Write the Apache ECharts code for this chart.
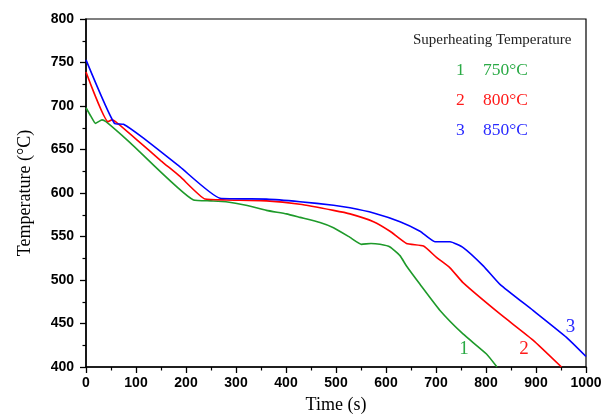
<!DOCTYPE html>
<html>
<head>
<meta charset="utf-8">
<script src="https://cdn.jsdelivr.net/npm/echarts@6/dist/echarts.min.js"></script>
<style>
  html, body { margin: 0; padding: 0; background: #fff; }
  #chart { width: 611px; height: 419px; }
</style>
</head>
<body>
<div id="chart"></div>
<script>
// curve 1 - 750°C superheating
const timeGreen = [0, 10, 19, 25, 32, 40, 88, 215, 250, 280, 320, 361, 401, 428, 468, 495, 528, 551, 570, 588, 608, 628, 641, 668, 708, 754, 801, 822]
const tempGreen = [698, 688, 680, 682, 684, 682, 658, 592, 591, 590, 586, 580, 576, 572, 566, 560, 549, 541, 542, 541, 538, 528, 516, 495, 465, 438, 415, 400]

// curve 2 - 800°C superheating
const timeRed = [0, 44, 52, 59, 100, 150, 188, 238, 281, 361, 428, 495, 528, 575, 608, 641, 675, 701, 728, 754, 828, 894, 951]
const tempRed = [739, 682, 684, 682, 662, 637, 619, 593, 592, 591, 587, 580, 576, 567, 556, 542, 539, 526, 514, 497, 461, 431, 400]

// curve 3 - 850°C superheating
const timeBlue = [0, 57, 75, 115, 188, 268, 361, 428, 495, 528, 575, 628, 668, 698, 728, 755, 795, 828, 894, 961, 1000]
const tempBlue = [753, 680, 679, 663, 630, 594, 593, 590, 586, 583, 577, 567, 556, 544, 544, 537, 516, 495, 465, 434, 412]

const curveNames = ['1', '2', '3']
const superheatLabels = ['750°C', '800°C', '850°C']
const labelAt = [[756, 421], [876, 421], [969, 446]] // where the 1/2/3 tags sit

const colors = ['#1e9a2a', '#ff0000', '#0000ff']
const textColors = ['#2aaa45', '#ff1a1a', '#2a2aff']

const zip = (xs, ys) => xs.map((x, i) => [x, ys[i]])
const seriesData = [zip(timeGreen, tempGreen), zip(timeRed, tempRed), zip(timeBlue, tempBlue)]

const chart = echarts.init(document.getElementById('chart'), null, { renderer: 'canvas' })

const axisCommon = {
  axisLine: { show: true, onZero: false, lineStyle: { color: '#000', width: 1.5 } },
  axisTick: { show: true, inside: false, length: 6, lineStyle: { color: '#000', width: 1.3 } },
  minorTick: { show: true, splitNumber: 2, length: 3.5, lineStyle: { color: '#000', width: 1.2 } },
  splitLine: { show: false },
  axisLabel: { color: '#000', fontFamily: 'Liberation Sans', fontWeight: 'bold', fontSize: 14, formatter: v => String(v) },
  nameTextStyle: { color: '#000', fontFamily: 'Liberation Serif', fontSize: 18 }
}

chart.setOption({
  animation: false,
  backgroundColor: '#fff',
  grid: {
    left: 86, right: 25, top: 19, bottom: 49,
    show: true, borderColor: '#000', borderWidth: 1.2
  },
  xAxis: Object.assign({}, axisCommon, {
    type: 'value', min: 0, max: 1000, interval: 100,
    name: 'Time (s)', nameLocation: 'middle', nameGap: 29,
    axisLabel: Object.assign({}, axisCommon.axisLabel, { margin: 9 })
  }),
  yAxis: Object.assign({}, axisCommon, {
    type: 'value', min: 400, max: 800, interval: 50,
    name: 'Temperature (°C)', nameLocation: 'middle', nameGap: 52,
    axisLabel: Object.assign({}, axisCommon.axisLabel, { margin: 12 })
  }),
  series: seriesData.map((d, i) => ({
    name: superheatLabels[i],
    type: 'line',
    data: d,
    showSymbol: false,
    symbol: 'none',
    smooth: 0.15,
    lineStyle: { color: colors[i], width: 1.6 },
    markPoint: {
      symbol: 'circle',
      symbolSize: 1,
      itemStyle: { color: 'rgba(0,0,0,0)' },
      data: [{ coord: labelAt[i], value: curveNames[i] }],
      label: {
        show: true, position: 'inside', formatter: curveNames[i], color: textColors[i],
        fontFamily: 'Liberation Serif', fontSize: 19
      }
    }
  })),
  graphic: [
    {
      type: 'text', left: 413, top: 33,
      style: { text: 'Superheating Temperature', fill: '#222', font: '15px "Liberation Serif"' }
    }
  ].concat(superheatLabels.map((lab, i) => ({
    type: 'group', left: 456, top: 61 + i * 30,
    children: [
      { type: 'text', x: 0, y: 0, style: { text: curveNames[i], fill: textColors[i], font: '17.5px "Liberation Serif"' } },
      { type: 'text', x: 27, y: 0, style: { text: lab, fill: textColors[i], font: '17.5px "Liberation Serif"' } }
    ]
  })))
})
</script>
</body>
</html>
